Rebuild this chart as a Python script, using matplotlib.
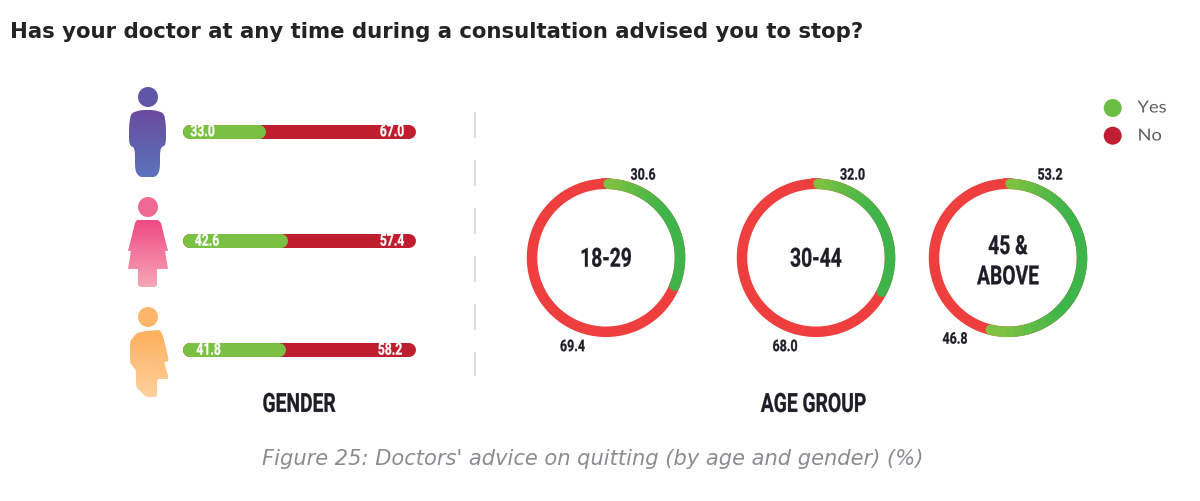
import numpy as np
import matplotlib
matplotlib.use('Agg')
import matplotlib.pyplot as plt
from matplotlib.collections import LineCollection
from matplotlib.colors import LinearSegmentedColormap, to_rgb
from matplotlib.patches import Circle, PathPatch
from matplotlib.path import Path
from matplotlib.patheffects import AbstractPathEffect
from matplotlib.transforms import Affine2D

TITLE = 'Has your doctor at any time during a consultation advised you to stop?'
CAPTION = "Figure 25: Doctors' advice on quitting (by age and gender) (%)"

GENDER_YES = [33.0, 42.6, 41.8]
GENDER_NO = [67.0, 57.4, 58.2]

AGE_GROUPS = ['18-29', '30-44', '45 &\nABOVE']
AGE_YES = [30.6, 32.0, 53.2]
AGE_NO = [69.4, 68.0, 46.8]

GREEN_BAR = '#7ac143'
RED_BAR = '#bf1e2e'
RING_RED = '#ee3e3e'
RING_LIGHT = '#7fc241'
RING_DARK = '#3db54a'
INK = '#1d1d26'

fig = plt.figure(figsize=(12, 5.02), dpi=100)
ax = fig.add_axes([0, 0, 1, 1])
ax.set_xlim(0, 1200)
ax.set_ylim(502, 0)


def px(width):
    return width * 72 / fig.dpi


class Squeeze(AbstractPathEffect):
    # scales glyphs horizontally around a fixed x, for a condensed look
    def __init__(self, x, ratio, stroke=0.0):
        super().__init__()
        self.x = x
        self.ratio = ratio
        self.stroke = stroke

    def draw_path(self, renderer, gc, tpath, affine, rgbFace=None):
        scaled = affine + Affine2D().translate(-self.x, 0).scale(self.ratio, 1).translate(self.x, 0)
        gc0 = renderer.new_gc()
        gc0.copy_properties(gc)
        if self.stroke:
            # a thin outline thickens the stems lost by the squeeze
            gc0.set_linewidth(self.stroke)
            gc0.set_foreground(rgbFace)
        renderer.draw_path(gc0, tpath, scaled, rgbFace)
        gc0.restore()


def label(x, y, text, size, colour=INK, ratio=0.73, **kwargs):
    t = ax.text(x, y + size * 0.1, text, color=colour, fontsize=size, family='Roboto', weight='bold',
                ha='center', va='center', **kwargs)
    t.set_path_effects([Squeeze(x, ratio, stroke=0.2)])
    return t


def gradient_shape(path, top, bottom):
    # vertical colour ramp clipped to the outline
    cmap = LinearSegmentedColormap.from_list('ramp', [top, bottom])
    ext = path.get_extents()
    img = ax.imshow(np.linspace(0, 1, 64).reshape(-1, 1), cmap=cmap, aspect='auto',
                    extent=[ext.x0, ext.x1, ext.y1, ext.y0], zorder=2)
    patch = PathPatch(path, transform=ax.transData, facecolor='none', edgecolor='none')
    ax.add_patch(patch)
    img.set_clip_path(patch)


def outline(points):
    verts = list(points) + [points[0]]
    codes = [Path.MOVETO] + [Path.LINETO] * (len(points) - 1) + [Path.CLOSEPOLY]
    return Path(verts, codes)


def smooth(points, passes=3, cut=0.2):
    # corner cutting, rounds off the figure outlines
    pts = np.array(points, dtype=float)
    for _ in range(passes):
        nxt = np.roll(pts, -1, axis=0)
        pts = np.column_stack([(1 - cut) * pts + cut * nxt, cut * pts + (1 - cut) * nxt]).reshape(-1, 2)
    return outline([tuple(p) for p in pts])


def head(cx, cy, colour):
    ax.add_patch(Circle((cx, cy), 10, facecolor=colour, edgecolor='none', zorder=2))


# man
head(148, 98, '#5f56a8')
gradient_shape(smooth([(129, 126), (131, 114), (141, 111), (154, 111), (164, 114), (166, 126),
                       (166, 146), (160, 149), (160, 172), (155, 178.5), (140, 178.5), (135, 172),
                       (135, 149), (129, 146)]),
               '#6b4a9e', '#5a74bb')
# woman
head(148, 208, '#ef6a92')
gradient_shape(outline([(137, 221), (158, 221), (161, 224), (168, 252), (165, 252), (168, 270),
                        (157, 270), (157, 286), (155, 288), (140, 288), (138, 286), (138, 270),
                        (128, 270), (131, 252), (128, 252), (135, 224)]),
               '#ee4a84', '#f8a6b6')
# side profile figure
head(148, 318, '#fdb56a')
gradient_shape(smooth([(130, 342), (137, 334), (146, 332), (160, 331), (163, 337), (169, 362),
                       (164, 363), (169, 380), (157, 380), (157, 398), (146, 398), (136, 388),
                       (136, 371), (130, 364)], 2, 0.12),
               '#fdb05c', '#fdd09c')

# stacked gender bars, the share is measured along the full bar width
BAR_LEFT, BAR_WIDTH = 183, 233
BAR_H = 14
bar_ys = [132.5, 242, 351]
yes_label_xs = [202.5, 207, 208.5]
no_label_xs = [392, 392, 390]
for y, yes, no, yes_x, no_x in zip(bar_ys, GENDER_YES, GENDER_NO, yes_label_xs, no_label_xs):
    cap = BAR_H / 2
    split = BAR_LEFT + BAR_WIDTH * yes / (yes + no) - 1
    ax.plot([BAR_LEFT + cap, BAR_LEFT + BAR_WIDTH - cap], [y, y], color=RED_BAR, lw=px(BAR_H),
            solid_capstyle='round', zorder=3)
    ax.plot([BAR_LEFT + cap, split], [y, y], color=GREEN_BAR, lw=px(BAR_H),
            solid_capstyle='round', zorder=4)
    label(yes_x, y - 1, f'{yes:.1f}', 12, colour='white', zorder=5)
    label(no_x, y - 1, f'{no:.1f}', 12, colour='white', zorder=5)

# divider between the two panels
ax.plot([475, 475], [113, 377], color='#d2d3d4', lw=px(1.5), dashes=(26 / 1.5, 22 / 1.5), zorder=1)

# age group rings
ring_xs = [606, 816, 1008]
name_offsets = [0, 0, 2.5]
RING_Y = 258.8
RING_R = 74
RING_W = 10.5
CHUNK = 12
yes_labels = [(643, 175), (852.5, 175), (1050, 175)]
no_labels = [(572.5, 346.5), (785, 346.5), (955, 339)]
ring_light = np.array(to_rgb(RING_LIGHT))
ring_dark = np.array(to_rgb(RING_DARK))
for cx, name, off, yes, no, yes_at, no_at in zip(ring_xs, AGE_GROUPS, name_offsets, AGE_YES, AGE_NO,
                                                 yes_labels, no_labels):
    theta = np.radians(np.linspace(0, 360, 361))
    ax.plot(cx + RING_R * np.sin(theta), RING_Y - RING_R * np.cos(theta), color=RING_RED,
            lw=px(RING_W), zorder=3)
    # yes arc runs clockwise from twelve o'clock, darkest around three o'clock
    sweep = np.radians(np.linspace(2, 2 + 360 * yes / (yes + no), 361))
    xs = cx + RING_R * np.sin(sweep)
    ys = RING_Y - RING_R * np.cos(sweep)
    mix = np.clip(np.sin(sweep) * 1.3, 0, 1)
    colours = ring_light + (ring_dark - ring_light) * mix[:, None]
    ax.plot(xs[:2], ys[:2], color=colours[0], lw=px(RING_W), solid_capstyle='round', zorder=4, snap=False)
    ax.plot(xs[-2:], ys[-2:], color=colours[-1], lw=px(RING_W), solid_capstyle='round', zorder=4, snap=False)
    # overlapping multi-point pieces keep the ring edge smooth under the shading
    starts = range(0, len(xs) - 1, CHUNK)
    pieces = [np.column_stack([xs[i:i + CHUNK + 2], ys[i:i + CHUNK + 2]]) for i in starts]
    piece_colours = [colours[i] for i in starts]
    ax.add_collection(LineCollection(pieces, colors=piece_colours, linewidths=px(RING_W),
                                     capstyle='butt', joinstyle='round', zorder=4.5, snap=False))
    label(cx, RING_Y + off, name, 19, linespacing=1.33, zorder=5)
    label(*yes_at, f'{yes:.1f}', 11.5, ratio=0.78)
    label(*no_at, f'{no:.1f}', 11.5, ratio=0.78)

label(299, 404, 'GENDER', 19)
label(813.5, 404, 'AGE GROUP', 19)

# legend
ax.add_patch(Circle((1112.7, 109), 9, facecolor='#6cbd45', edgecolor='none'))
ax.add_patch(Circle((1112.7, 136.7), 9, facecolor='#c01f33', edgecolor='none'))
for y, text in zip([108.5, 136.5], ['Yes', 'No']):
    t = ax.text(1137.5, y, text, color='#5d5e62', fontsize=12, family='Lato', ha='left', va='center')
    t.set_path_effects([Squeeze(1137.5, 1.1)])

ax.text(10, 32, TITLE, color='#232323', fontsize=15.3, family='DejaVu Sans', weight='bold',
        ha='left', va='center')
ax.text(262, 459, CAPTION, color='#8a8c90', fontsize=15.1, family='DejaVu Sans', style='italic',
        ha='left', va='center')

ax.axis('off')
fig.savefig('out.png', dpi=100, facecolor='white')
